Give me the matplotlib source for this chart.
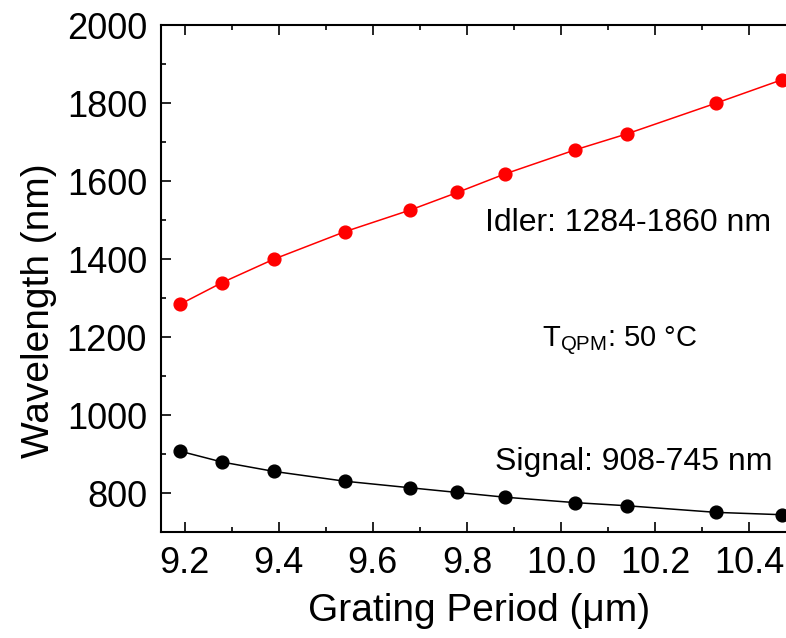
import matplotlib
matplotlib.use("Agg")
import matplotlib.pyplot as plt
from matplotlib.ticker import MultipleLocator

plt.rcParams['font.family'] = ['Liberation Sans', 'DejaVu Sans']
plt.rcParams['mathtext.fontset'] = 'custom'
plt.rcParams['mathtext.rm'] = 'Liberation Sans'
plt.rcParams['mathtext.it'] = 'Liberation Sans:italic'

# grating period (um) and wavelengths (nm)
period = [9.19, 9.28, 9.39, 9.54, 9.68, 9.78, 9.88, 10.03, 10.14, 10.33, 10.47]
idler = [1284, 1340, 1400, 1470, 1526, 1571, 1618, 1680, 1721, 1800, 1860]
signal = [908, 880, 856, 831, 814, 802, 790, 776, 768, 751, 745]
xticks = [9.2, 9.4, 9.6, 9.8, 10.0, 10.2, 10.4]
xticklabels = ['9.2', '9.4', '9.6', '9.8', '10.0', '10.2', '10.4']

fig = plt.figure(figsize=(7.86, 6.38), dpi=100)
ax = fig.add_axes([0.2048, 0.1657, 0.7952, 0.7951])

ax.plot(period, idler, color='red', lw=1.1, marker='o', ms=9.2, clip_on=False)
ax.plot(period, signal, color='black', lw=1.1, marker='o', ms=9.2, clip_on=False)

ax.set_xlim(9.15, 10.478)
ax.set_ylim(700, 2000)
ax.set_xticks(xticks)
ax.set_xticklabels(xticklabels)
ax.xaxis.set_minor_locator(MultipleLocator(0.1))
ax.yaxis.set_major_locator(MultipleLocator(200))
ax.yaxis.set_minor_locator(MultipleLocator(100))

ax.spines['right'].set_visible(False)
for s in ['left', 'bottom', 'top']:
    ax.spines[s].set_linewidth(1.5)
ax.tick_params(which='both', direction='in', top=True, right=False,
               labelsize=26, width=1.2)
ax.tick_params(which='major', length=7, pad=10)
ax.tick_params(which='minor', length=3.5)

ax.set_xlabel('Grating Period (\u03bcm)', fontsize=28)
ax.set_ylabel('Wavelength (nm)', fontsize=28)
ax.xaxis.set_label_coords(0.509, -0.12)
ax.yaxis.set_label_coords(-0.167, 0.436)

ax.text(10.446, 1472, 'Idler: 1284-1860 nm', fontsize=23, ha='right', va='baseline')
ax.text(10.45, 859, 'Signal: 908-745 nm', fontsize=23, ha='right', va='baseline')
ax.text(9.959, 1174, 'T$_\\mathrm{QPM}$: 50 \u00b0C', fontsize=21, ha='left', va='baseline')

fig.savefig('out.png', dpi=100)
